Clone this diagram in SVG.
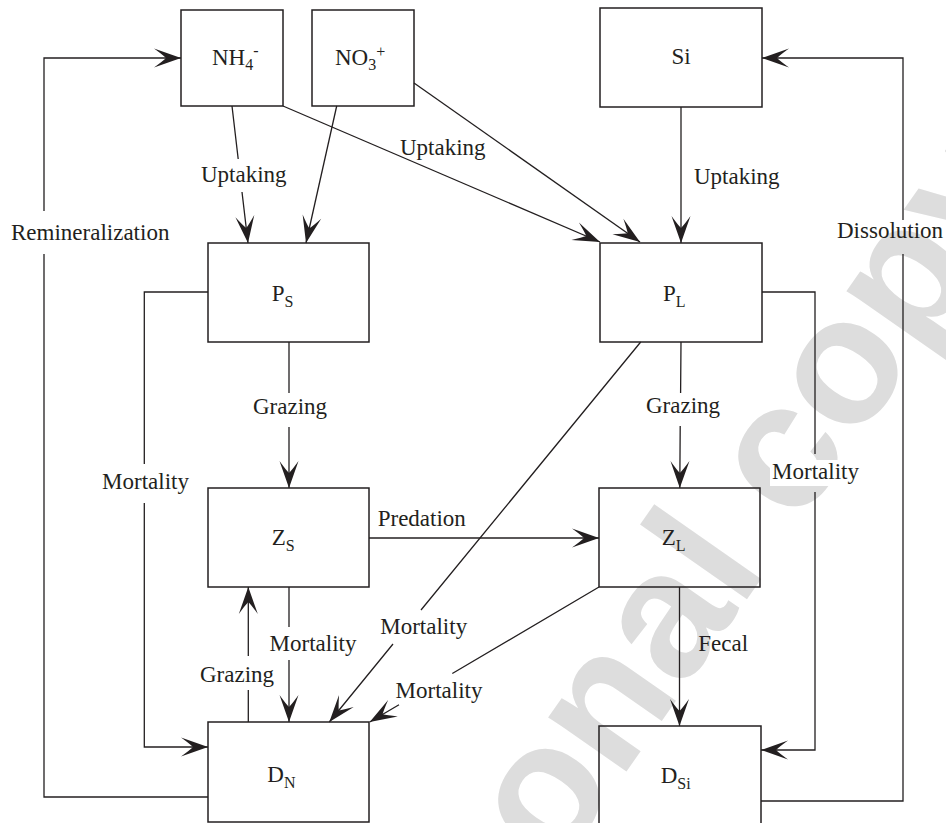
<svg xmlns="http://www.w3.org/2000/svg" width="946" height="823" viewBox="0 0 946 823">
<style>
.box{fill:none;stroke:#231f20;stroke-width:1.5}
.ln{fill:none;stroke:#231f20;stroke-width:1.3}
.arr{marker-end:url(#ah)}
text{font-family:"Liberation Serif","Times New Roman",serif;fill:#231f20}
.lbl{font-size:23px}
.nd{font-size:23px}
.sub{font-size:16px}
.wm{font-family:"Liberation Sans",Arial,sans-serif;font-weight:bold;font-size:180px;fill:#dddddd}
</style>
<defs>
<marker id="ah" viewBox="-28 -12 30 24" refX="0" refY="0" markerWidth="30" markerHeight="24" markerUnits="userSpaceOnUse" orient="auto">
<path d="M0,0 L-27,-9.5 Q-18,-3 -15,0 Q-18,3 -27,9.5 Z" fill="#231f20"/>
</marker>
</defs>
<rect width="946" height="823" fill="#fff"/>
<text class="wm" transform="translate(556,872) rotate(-55)" x="-390" y="0">Personal copy</text>

<g id="connectors">
<path class="ln arr" d="M232,106 L238.2,159 M242,192 L248,243"/>
<path class="ln arr" d="M336.7,106 L306,243"/>
<path class="ln arr" d="M283,106 L600,242"/>
<path class="ln arr" d="M414,83 L640,242"/>
<path class="ln arr" d="M681,107 L681,243"/>
<path class="ln arr" d="M289,342 L289,393 M289,427 L289,488"/>
<path class="ln arr" d="M681,342 L680.6,393 M680.2,426 L679.8,488"/>
<path class="ln arr" d="M369,538 L599,538"/>
<path class="ln arr" d="M679.5,587 L679.5,726"/>
<path class="ln arr" d="M640.7,342 L421,610 M393,644 L329.3,722"/>
<path class="ln arr" d="M599,587 L452.3,673.5 M399,704.7 L369.7,722"/>
<path class="ln arr" d="M289,587 L289,627 M289,660 L289,722"/>
<path class="ln arr" d="M248.3,722 L248.3,690 M248.3,656 L248.3,587"/>
<path class="ln arr" d="M208,292 L144.3,292 L144.3,464 M144.3,503 L144.3,747 L208,747"/>
<path class="ln arr" d="M762,292 L815,292 L815,454 M815,492 L815,750 L761,750"/>
<path class="ln arr" d="M208,797 L44,797 L44,254 M44,211 L44,58 L181,58"/>
<path class="ln arr" d="M761,801 L903,801 L903,254 M903,220 L903,58 L762,58"/>
</g>

<g id="edge-labels">
<text class="lbl" x="201" y="182">Uptaking</text>
<text class="lbl" x="400" y="155">Uptaking</text>
<text class="lbl" x="694" y="184">Uptaking</text>
<text class="lbl" x="11" y="240">Remineralization</text>
<text class="lbl" x="837" y="238">Dissolution</text>
<text class="lbl" x="290" y="414" text-anchor="middle">Grazing</text>
<text class="lbl" x="683" y="413" text-anchor="middle">Grazing</text>
<text class="lbl" x="145.5" y="489" text-anchor="middle">Mortality</text>
<text class="lbl" x="377.7" y="526">Predation</text>
<rect x="770" y="460" width="92" height="26" fill="#fff"/>
<text class="lbl" x="815.5" y="479" text-anchor="middle">Mortality</text>
<text class="lbl" x="313" y="651" text-anchor="middle">Mortality</text>
<text class="lbl" x="237" y="682" text-anchor="middle">Grazing</text>
<text class="lbl" x="423.7" y="634" text-anchor="middle">Mortality</text>
<text class="lbl" x="439" y="698" text-anchor="middle">Mortality</text>
<text class="lbl" x="698.3" y="651">Fecal</text>
</g>

<g id="NH4"><rect class="box" x="181" y="10" width="102" height="96"/><text class="nd" x="212" y="65">NH<tspan class="sub" dy="5">4</tspan><tspan class="sub" dy="-14">-</tspan></text></g>
<g id="NO3"><rect class="box" x="312" y="10" width="102" height="96"/><text class="nd" x="335" y="65">NO<tspan class="sub" dy="5">3</tspan><tspan class="sub" dy="-13">+</tspan></text></g>
<g id="Si"><rect class="box" x="600" y="8" width="162" height="99"/><text class="nd" x="681" y="64" text-anchor="middle">Si</text></g>
<g id="PS"><rect class="box" x="208" y="243" width="161" height="99"/><text class="nd" x="271.7" y="301">P<tspan class="sub" dy="6">S</tspan></text></g>
<g id="PL"><rect class="box" x="600" y="243" width="162" height="99"/><text class="nd" x="663" y="301">P<tspan class="sub" dy="6">L</tspan></text></g>
<g id="ZS"><rect class="box" x="208" y="488" width="161" height="99"/><text class="nd" x="271.7" y="545">Z<tspan class="sub" dy="6">S</tspan></text></g>
<g id="ZL"><rect class="box" x="599" y="488" width="161" height="99"/><text class="nd" x="661.7" y="545">Z<tspan class="sub" dy="6">L</tspan></text></g>
<g id="DN"><rect class="box" x="208" y="722" width="161" height="100"/><text class="nd" x="267.3" y="782">D<tspan class="sub" dy="6">N</tspan></text></g>
<g id="DSi"><rect class="box" x="599" y="726" width="162" height="100"/><text class="nd" x="660.7" y="783">D<tspan class="sub" dy="6">Si</tspan></text></g>
</svg>
